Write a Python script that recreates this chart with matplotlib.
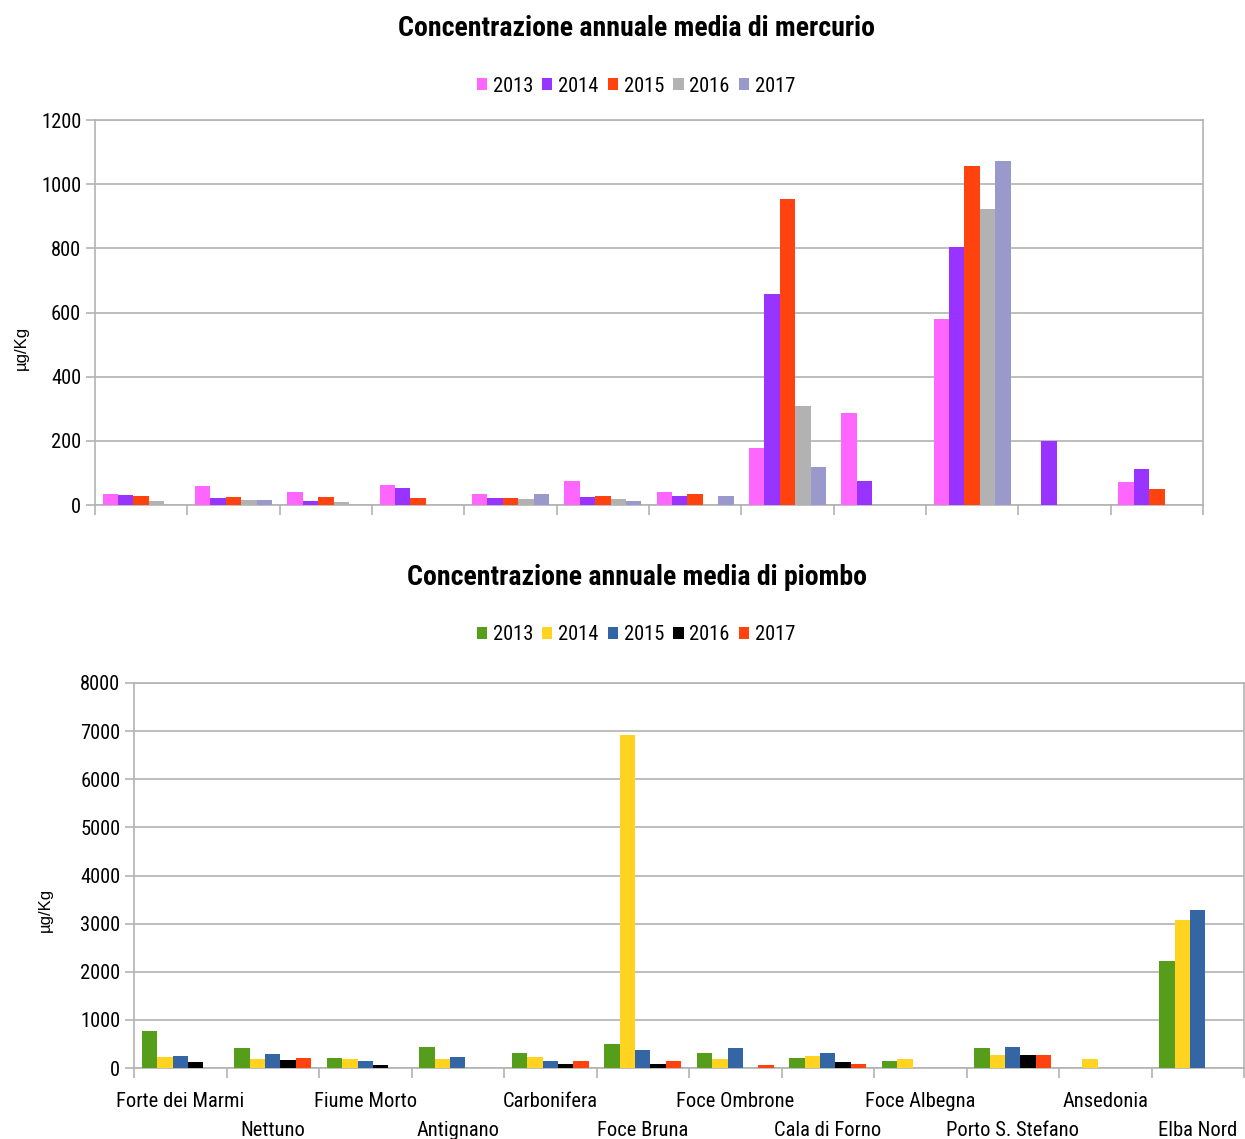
import os
import matplotlib
matplotlib.use("Agg")
import matplotlib.pyplot as plt
import matplotlib.transforms as mtransforms
from matplotlib import font_manager as fm
from matplotlib.patches import Patch
import numpy as np

# ---- data -------------------------------------------------------------
stations = ["Forte dei Marmi", "Nettuno", "Fiume Morto", "Antignano",
            "Carbonifera", "Foce Bruna", "Foce Ombrone", "Cala di Forno",
            "Foce Albegna", "Porto S. Stefano", "Ansedonia", "Elba Nord"]
years = ["2013", "2014", "2015", "2016", "2017"]

# mercury, µg/Kg (None = no sample)
hg_2013 = [35, 60, 42, 63, 35, 76, 42, 179, 288, 579, None, 73]
hg_2014 = [32, 23, 14, 54, 23, 26, 29, 657, 76, 803, 198, 113]
hg_2015 = [29, 26, 26, 23, 23, 29, 35, 953, None, 1056, None, 51]
hg_2016 = [14, 17, 10, None, 20, 20, None, 310, None, 922, None, None]
hg_2017 = [None, 17, None, None, 35, 14, 29, 117, None, 1072, None, None]

# lead, µg/Kg (None = no sample)
pb_2013 = [778, 424, 215, 444, 319, 507, 319, 215, 153, 424, None, 2224]
pb_2014 = [236, 194, 194, 194, 236, 6925, 194, 257, 194, 278, 194, 3084]
pb_2015 = [257, 299, 153, 236, 153, 382, 424, 319, None, 444, None, 3273]
pb_2016 = [132, 174, 69, None, 90, 90, None, 132, None, 278, None, None]
pb_2017 = [None, 215, None, None, 153, 153, 69, 90, None, 278, None, None]

hg_colors = ["#FF66FF", "#9933FF", "#FF420E", "#B2B2B2", "#9999CC"]
pb_colors = ["#579D1C", "#FFD320", "#3465A4", "#000000", "#FF420E"]

# ---- fonts: prefer a narrow sans, fall back to Liberation Sans --------
W, H = 1245, 1139
DPI = 100
GRID = "#B3B3B3"


def find_narrow(bold):
    prefs = ["liberation sans narrow", "liberationsansnarrow", "nimbus sans narrow",
             "nimbussansnarrow", "arial narrow", "roboto condensed", "robotocondensed",
             "open sans condensed", "opensans_condensed", "opensanscondensed",
             "dejavu sans condensed", "dejavusanscondensed", "noto sans condensed",
             "notosans-condensed"]
    found = {}
    for f in fm.fontManager.ttflist:
        base = os.path.basename(f.fname).lower()
        key = (f.name.lower() + " " + base)
        if f.style != "normal" or "italic" in base or "oblique" in base:
            continue
        is_bold = (f.weight in (700, "bold")) or "bold" in base
        if is_bold != bold:
            continue
        if any(w in base for w in ("light", "thin", "medium", "semibold", "extrabold", "black", "semicondensed", "extracondensed")):
            continue
        for rank, p in enumerate(prefs):
            if p in key or p in base.replace("-", "").replace("_", ""):
                found.setdefault(rank, f.fname)
    if found:
        return fm.FontProperties(fname=found[min(found)])
    return fm.FontProperties(family=["Liberation Sans", "DejaVu Sans"],
                             weight="bold" if bold else "normal")


REG = find_narrow(False)
BOLD = find_narrow(True)

fig = plt.figure(figsize=(W / DPI, H / DPI), dpi=DPI)
renderer = fig.canvas.get_renderer()


def fitted(prop, text, width_px):
    p = prop.copy()
    p.set_size(10)
    w, _, _ = renderer.get_text_width_height_descent(text, p, ismath=False)
    p.set_size(10 * width_px / w)
    return p


TICK = fitted(REG, "Forte dei Marmi", 127)
TITLE = fitted(BOLD, "Concentrazione annuale media di mercurio", 477)
YLAB = fitted(fm.FontProperties(family=["Liberation Sans", "DejaVu Sans"]), "µg/Kg", 44)


def px_axes(left, top, right, bottom):
    return fig.add_axes([left / W, 1 - bottom / H, (right - left) / W, (bottom - top) / H])


def draw_bars(ax, series, colors, ymax, ystep):
    n = len(series)
    x = np.arange(len(stations))
    width = 1.0 / (n + 1)
    for i, (vals, col) in enumerate(zip(series, colors)):
        v = np.array([np.nan if a is None else a for a in vals], dtype=float)
        ax.bar(x + (i - (n - 1) / 2) * width, v, width=width, color=col,
               linewidth=0, zorder=3)
    ax.set_xlim(-0.5, len(stations) - 0.5)
    ax.set_ylim(0, ymax)
    ax.set_yticks(np.arange(0, ymax + 1, ystep))
    ax.set_xticks(np.arange(-0.5, len(stations), 1.0))
    ax.set_xticklabels([])
    ax.yaxis.grid(True, color=GRID, linewidth=1.2, zorder=0)
    ax.set_axisbelow(True)
    for side in ["left", "right", "top", "bottom"]:
        ax.spines[side].set_color(GRID)
        ax.spines[side].set_linewidth(1.2)
    ax.tick_params(axis="y", length=6.3, width=1.2, color=GRID, pad=3.6,
                   labelcolor="black")
    ax.tick_params(axis="x", length=7, width=1.2, color=GRID)
    for lab in ax.get_yticklabels():
        lab.set_fontproperties(TICK)


def legend(colors, ycen):
    handles = [Patch(facecolor=c, edgecolor="none", label=y) for c, y in zip(colors, years)]
    fig.legend(handles=handles, loc="center", bbox_to_anchor=(636 / W, 1 - ycen / H),
               ncol=5, frameon=False, prop=TICK, handlelength=0.5,
               handleheight=0.5, handletextpad=0.28, columnspacing=0.45,
               borderpad=0, borderaxespad=0)


# ---- mercury chart ----------------------------------------------------
ax1 = px_axes(95, 120, 1203, 505)
draw_bars(ax1, [hg_2013, hg_2014, hg_2015, hg_2016, hg_2017], hg_colors, 1200, 200)
fig.text(637 / W, 1 - 36 / H, "Concentrazione annuale media di mercurio",
         ha="center", va="baseline", fontproperties=TITLE)
legend(hg_colors, 86)
fig.text(21 / W, 1 - 348 / H, "µg/Kg", rotation=90, ha="center", va="center",
         fontproperties=YLAB)

# ---- lead chart -------------------------------------------------------
ax2 = px_axes(134, 683, 1244, 1068)
draw_bars(ax2, [pb_2013, pb_2014, pb_2015, pb_2016, pb_2017], pb_colors, 8000, 1000)
fig.text(637 / W, 1 - 585 / H, "Concentrazione annuale media di piombo",
         ha="center", va="baseline", fontproperties=TITLE)
legend(pb_colors, 635)
fig.text(45 / W, 1 - 910 / H, "µg/Kg", rotation=90, ha="center", va="center",
         fontproperties=YLAB)

# staggered station names under the lead chart
base = ax2.get_xaxis_transform()
for i, name in enumerate(stations):
    drop = 28.4 if i % 2 == 0 else 48.6
    tr = mtransforms.offset_copy(base, fig=fig, y=-drop, units="points")
    ax2.text(i, 0, name, transform=tr, ha="center", va="baseline",
             fontproperties=TICK, clip_on=False)

fig.savefig("out.png", dpi=DPI)
